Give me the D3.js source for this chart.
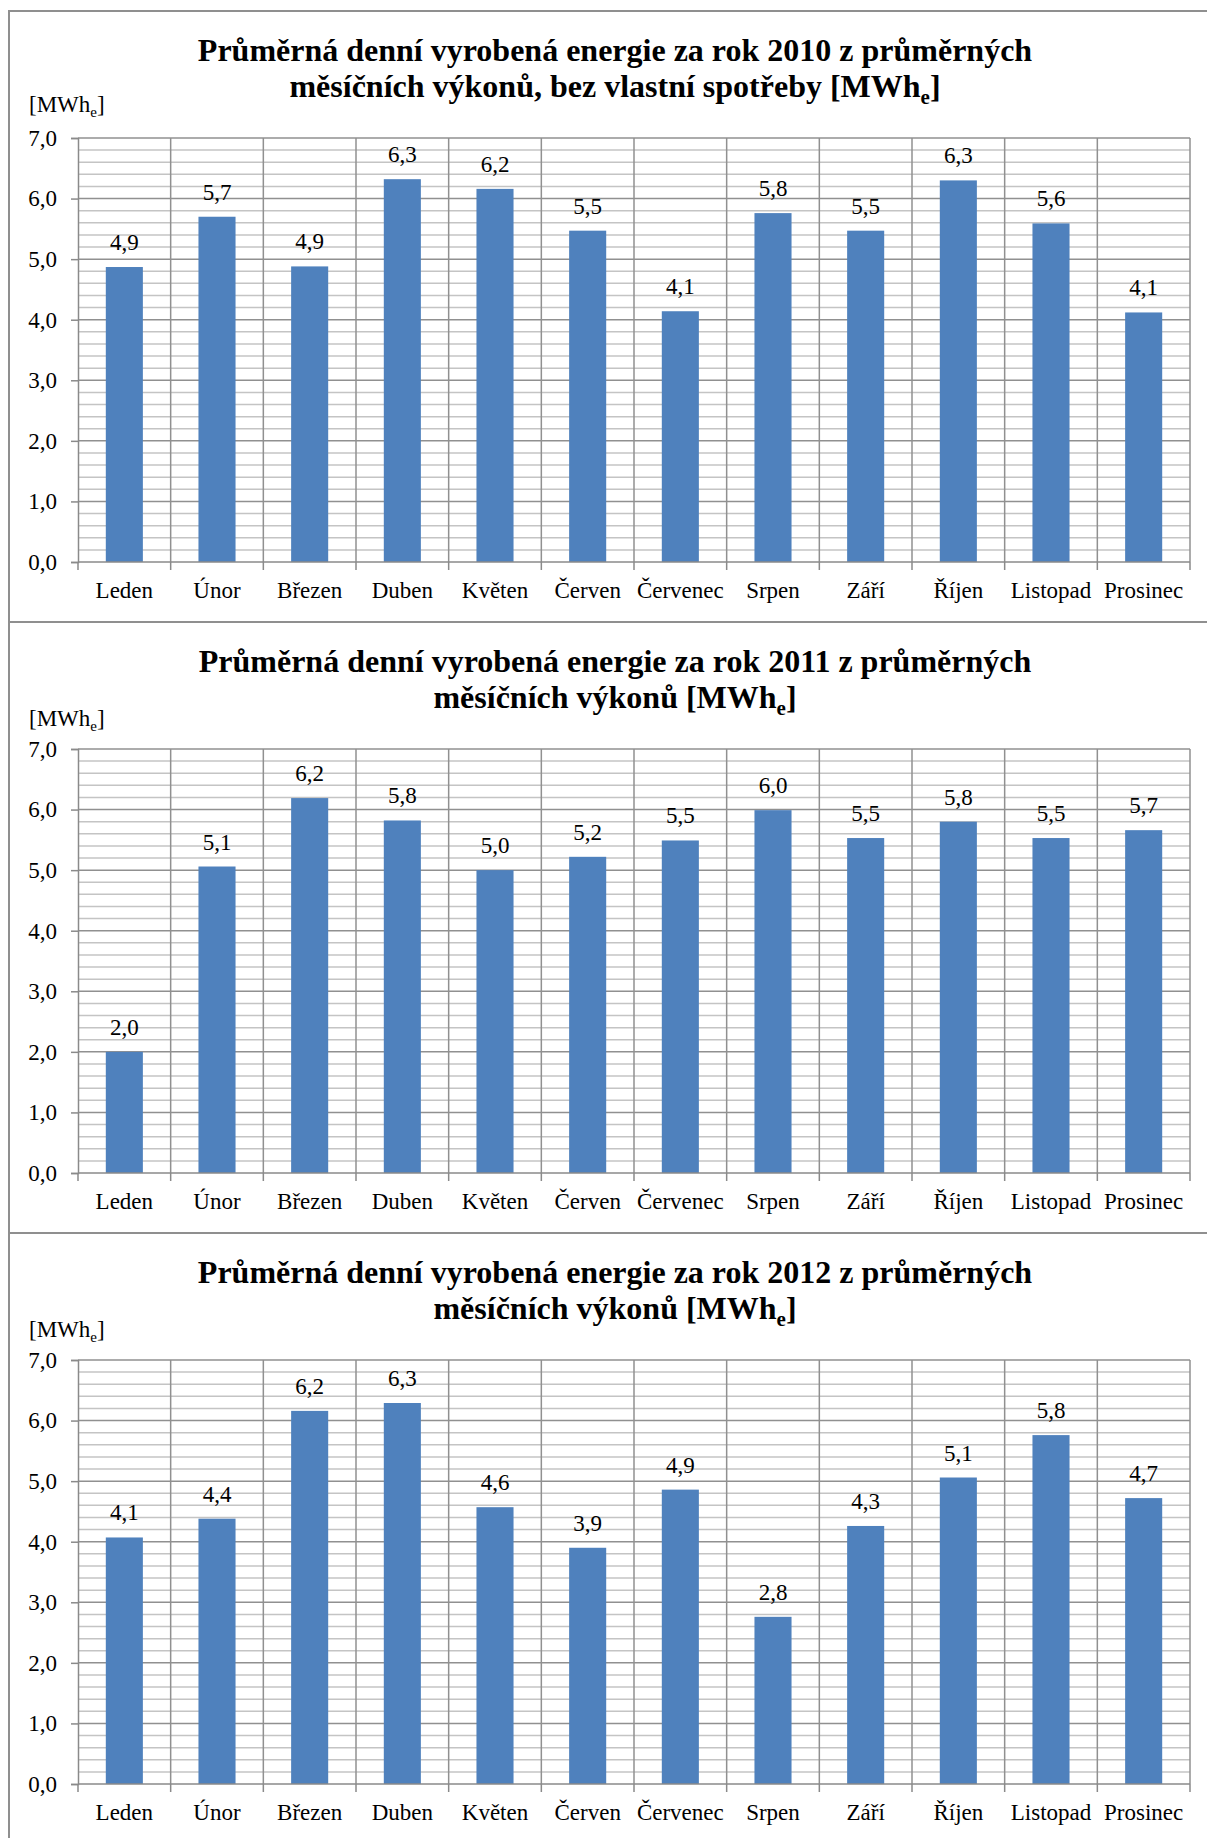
<!DOCTYPE html>
<html>
<head>
<meta charset="utf-8">
<script src="https://cdn.jsdelivr.net/npm/d3@7"></script>
<style>
  html, body { margin: 0; padding: 0; background: #fff; }
  svg { display: block; }
  text { font-family: "Liberation Serif", "Times New Roman", serif; fill: #000; }
</style>
</head>
<body>
<svg id="chart" width="1207" height="1838"></svg>
<script>
// ---- data ----
const months = ["Leden", "Únor", "Březen", "Duben", "Květen", "Červen", "Červenec", "Srpen", "Září", "Říjen", "Listopad", "Prosinec"];
const values2010 = [4.87, 5.70, 4.88, 6.32, 6.16, 5.47, 4.14, 5.76, 5.47, 6.30, 5.59, 4.12];
const values2011 = [2.00, 5.06, 6.19, 5.82, 5.00, 5.22, 5.49, 5.99, 5.53, 5.80, 5.53, 5.66];
const values2012 = [4.07, 4.38, 6.16, 6.29, 4.57, 3.90, 4.86, 2.76, 4.26, 5.06, 5.76, 4.72];
const yTicks = [0, 1, 2, 3, 4, 5, 6, 7];
const titleLines1 = ["Průměrná denní vyrobená energie za rok 2010 z průměrných", "měsíčních výkonů, bez vlastní spotřeby [MWh"];
const titleLines2 = ["Průměrná denní vyrobená energie za rok 2011 z průměrných", "měsíčních výkonů [MWh"];
const titleLines3 = ["Průměrná denní vyrobená energie za rok 2012 z průměrných", "měsíčních výkonů [MWh"];
const unitMain = "[MWh";
const unitSub = "e";
const unitEnd = "]";

const panels = [
  { top: 11, title: titleLines1, values: values2010, unitShift: -3 },
  { top: 622, title: titleLines2, values: values2011, unitShift: 0 },
  { top: 1233, title: titleLines3, values: values2012, unitShift: 0 }
];

const svg = d3.select("#chart");
const fmt = v => d3.format(".1f")(v).replace(".", ",");

const plotLeft = 78, plotRight = 1190;
const x = d3.scaleBand().domain(months).range([plotLeft, plotRight]).paddingInner(0.6).paddingOuter(0.3);
const minorVals = d3.range(0, 35).map(i => i / 5).filter(v => Math.abs(v - Math.round(v)) > 1e-6);

panels.forEach(p => {
  const T = p.top;
  const g = svg.append("g");
  const plotTop = T + 127, plotBottom = T + 551;
  const y = d3.scaleLinear().domain([0, 7]).range([plotBottom, plotTop]);

  // panel border
  g.append("rect").attr("x", 9).attr("y", T).attr("width", 1210).attr("height", 611)
    .attr("fill", "none").attr("stroke", "#8f8f8f").attr("stroke-width", 2);

  // title
  const tt = g.append("text").attr("text-anchor", "middle")
    .attr("font-weight", "bold").attr("font-size", 32);
  tt.append("tspan").attr("x", 615).attr("y", T + 50).text(p.title[0]);
  const l2 = tt.append("tspan").attr("x", 615).attr("y", T + 86);
  l2.append("tspan").text(p.title[1]);
  l2.append("tspan").attr("font-size", 21).attr("dy", 7).text(unitSub);
  l2.append("tspan").attr("dy", -7).text("]");

  // unit label
  const ul = g.append("text").attr("x", 29).attr("y", T + 104 + p.unitShift).attr("font-size", 23);
  ul.append("tspan").text(unitMain);
  ul.append("tspan").attr("font-size", 15).attr("dy", 5).text(unitSub);
  ul.append("tspan").attr("dy", -5).text(unitEnd);

  // minor gridlines
  g.append("g").selectAll("line").data(minorVals).join("line")
    .attr("x1", plotLeft).attr("x2", plotRight)
    .attr("y1", d => y(d)).attr("y2", d => y(d))
    .attr("stroke", "#c4c4c4").attr("stroke-width", 1.5);

  // major gridlines
  g.append("g").selectAll("line").data(yTicks.filter(v => v > 0)).join("line")
    .attr("x1", plotLeft).attr("x2", plotRight)
    .attr("y1", d => y(d)).attr("y2", d => y(d))
    .attr("stroke", "#909090").attr("stroke-width", 1.5);

  // vertical gridlines at category boundaries
  const bounds = d3.range(0, months.length + 1).map(i => plotLeft + i * x.step());
  g.append("g").selectAll("line").data(bounds.slice(1)).join("line")
    .attr("x1", d => d).attr("x2", d => d)
    .attr("y1", plotTop).attr("y2", plotBottom)
    .attr("stroke", "#909090").attr("stroke-width", 1.5);

  // bars
  g.append("g").selectAll("rect").data(p.values).join("rect")
    .attr("x", (d, i) => x(months[i]))
    .attr("width", x.bandwidth())
    .attr("y", d => y(d))
    .attr("height", d => plotBottom - y(d))
    .attr("fill", "#4f81bd");

  // data labels
  g.append("g").selectAll("text").data(p.values).join("text")
    .attr("x", (d, i) => x(months[i]) + x.bandwidth() / 2)
    .attr("y", d => y(d) - 17)
    .attr("text-anchor", "middle").attr("font-size", 23)
    .text(d => fmt(d));

  // y axis
  const ya = g.append("g").attr("transform", `translate(${plotLeft},0)`)
    .call(d3.axisLeft(y).tickValues(yTicks).tickSize(7).tickPadding(14).tickFormat(fmt));
  ya.select(".domain").attr("stroke", "#8a8a8a").attr("stroke-width", 1.5);
  ya.selectAll(".tick line").attr("stroke", "#8a8a8a").attr("stroke-width", 1.5);
  ya.selectAll(".tick text").attr("font-size", 23).attr("font-family", "Liberation Serif, Times New Roman, serif").attr("fill", "#000");

  // x axis (labels)
  const xa = g.append("g").attr("transform", `translate(0,${plotBottom})`)
    .call(d3.axisBottom(x).tickSize(0).tickPadding(20));
  xa.select(".domain").remove();
  xa.selectAll(".tick text").attr("font-size", 23).attr("font-family", "Liberation Serif, Times New Roman, serif").attr("fill", "#000");
  g.append("line").attr("x1", plotLeft).attr("x2", plotRight)
    .attr("y1", plotBottom).attr("y2", plotBottom)
    .attr("stroke", "#8a8a8a").attr("stroke-width", 1.5);
  g.append("g").selectAll("line").data(bounds).join("line")
    .attr("x1", d => d).attr("x2", d => d)
    .attr("y1", plotBottom).attr("y2", plotBottom + 8)
    .attr("stroke", "#8a8a8a").attr("stroke-width", 1.5);
});
</script>
</body>
</html>
